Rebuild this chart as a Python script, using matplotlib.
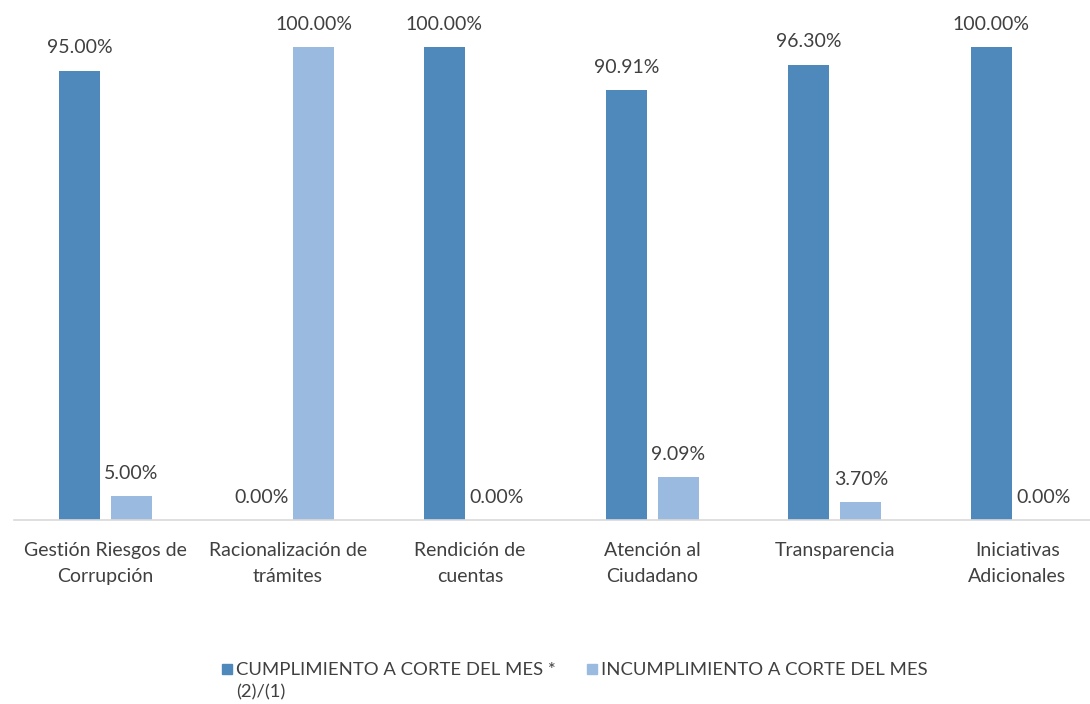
import matplotlib
matplotlib.use('Agg')
import matplotlib.pyplot as plt
import numpy as np
from matplotlib.patches import Rectangle

categories = ['Gestión Riesgos de\nCorrupción', 'Racionalización de\ntrámites', 'Rendición de\ncuentas',
              'Atención al\nCiudadano', 'Transparencia', 'Iniciativas\nAdicionales']
cumplimiento = [95.00, 0.00, 100.00, 90.91, 96.30, 100.00]
incumplimiento = [5.00, 100.00, 0.00, 9.09, 3.70, 0.00]
series_names = ['CUMPLIMIENTO A CORTE DEL MES *\n(2)/(1)', 'INCUMPLIMIENTO A CORTE DEL MES']

c_dark = '#4F88BB'
c_light = '#9ABAE0'
txt = '#404040'

plt.rcParams['font.family'] = ['Lato', 'DejaVu Sans']

fig = plt.figure(figsize=(10.9, 7.04), dpi=100)
ax = fig.add_axes([14.3 / 1090, 1 - 520 / 704, 1094 / 1090, (520 - 47) / 704])

x = np.arange(len(categories))
w = 0.225
off = 0.143
b1 = ax.bar(x - off, cumplimiento, w, color=c_dark)
b2 = ax.bar(x + off, incumplimiento, w, color=c_light)

for bars, vals in [(b1, cumplimiento), (b2, incumplimiento)]:
    for b, v in zip(bars, vals):
        ax.annotate('%.2f%%' % v, (b.get_x() + b.get_width() / 2, v), xytext=(0, 16.5),
                    textcoords='offset points', ha='center', va='center', fontsize=14,
                    color=txt, annotation_clip=False)

ax.set_xlim(-0.5, len(categories) - 0.5)
ax.set_ylim(0, 100)
ax.set_xticks(x)
ax.set_xticklabels(categories, fontsize=14, color=txt, linespacing=1.65)
ax.tick_params(axis='x', length=0, pad=15.5)
ax.set_yticks([])
for s in ['top', 'right', 'left']:
    ax.spines[s].set_visible(False)
ax.spines['bottom'].set_color('#D9D9D9')
ax.spines['bottom'].set_linewidth(1.2)

# legend
W, H = 1090, 704
for (px, color, label) in [(222, c_dark, series_names[0]), (587, c_light, series_names[1])]:
    fig.add_artist(Rectangle((px / W, 1 - 674 / H), 10 / W, 10 / H, color=color, transform=fig.transFigure))
    fig.text((px + 14) / W, 1 - 662 / H, label, fontsize=13.3, color=txt, va='top', ha='left', linespacing=1.45)

fig.savefig('out.png', dpi=100)
